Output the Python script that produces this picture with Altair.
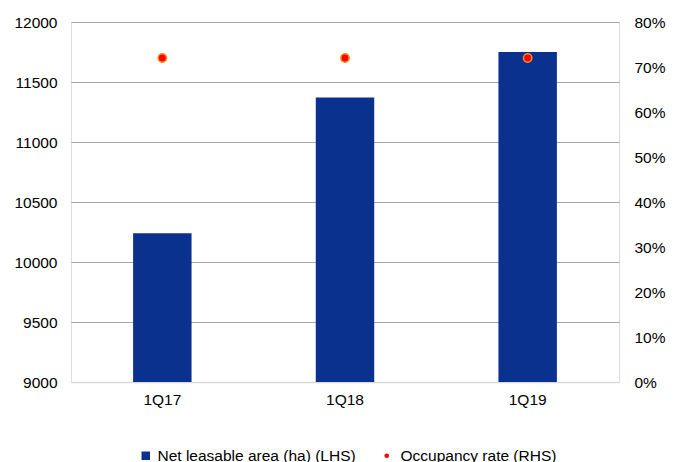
import altair as alt
import pandas as pd

quarters = ["1Q17", "1Q18", "1Q19"]
area = [10240, 11370, 11750]
occupancy = [0.72, 0.72, 0.72]
bar_name = "Net leasable area (ha) (LHS)"
pt_name = "Occupancy rate (RHS)"

df = pd.DataFrame({
    "q": quarters,
    "area": area,
    "occ": occupancy,
    "s1": [bar_name] * 3,
    "s2": [pt_name] * 3,
})

FONT = "Liberation Sans"
FS = 15.5

x = alt.X("q:N", sort=quarters, title=None,
          scale=alt.Scale(paddingInner=0.68, paddingOuter=0.34),
          axis=alt.Axis(labelAngle=0, ticks=False, labelPadding=10,
                        domainColor="#d9d9d9", domainWidth=1.5,
                        labelFont=FONT, labelFontSize=FS, labelColor="#000"))

bars = alt.Chart(df).mark_bar(color="#0b318f", clip=True).encode(
    x=x,
    y=alt.Y("area:Q", title=None,
            scale=alt.Scale(domain=[9000, 12000], nice=False, zero=False),
            axis=alt.Axis(values=[9000, 9500, 10000, 10500, 11000, 11500, 12000],
                          format="d",
                          ticks=False, domain=False, labelPadding=14,
                          gridColor={"condition": {"test": "datum.value === 9000", "value": "#d9d9d9"},
                                     "value": "#a6a6a6"},
                          gridWidth=1.2,
                          labelFont=FONT, labelFontSize=FS, labelColor="#000")),
    y2=alt.Y2(datum=9000),
    fill=alt.Fill("s1:N", title=None,
                  scale=alt.Scale(domain=[bar_name], range=["#0b318f"]),
                  legend=alt.Legend(orient="none", legendX=67, legendY=426,
                                    symbolType="square", symbolSize=72,
                                    symbolStrokeWidth=0, labelLimit=400,
                                    labelBaseline="middle", labelOffset=4,
                                    labelFont=FONT, labelFontSize=FS, labelColor="#000")),
)

points = alt.Chart(df).mark_point(filled=True, fill="#ff0000", stroke="#ff8c1a",
                                   strokeWidth=1.5, size=70, opacity=1).encode(
    x=x,
    y=alt.Y("occ:Q", title=None,
            scale=alt.Scale(domain=[0, 0.8], nice=False),
            axis=alt.Axis(orient="right", format=".0%",
                          values=[0, 0.1, 0.2, 0.3, 0.4, 0.5, 0.6, 0.7, 0.8],
                          ticks=False, domain=False, grid=False, labelPadding=15,
                          labelFont=FONT, labelFontSize=FS, labelColor="#000")),
    shape=alt.Shape("s2:N", title=None,
                    scale=alt.Scale(domain=[pt_name], range=["circle"]),
                    legend=alt.Legend(orient="none", legendX=308, legendY=426,
                                      symbolSize=22, symbolFillColor="#ff0000",
                                      symbolStrokeColor="#ff8c1a", symbolStrokeWidth=1,
                                      labelLimit=400,
                                      labelBaseline="middle", labelOffset=6,
                                      labelFont=FONT, labelFontSize=FS, labelColor="#000")),
)

chart = alt.layer(bars, points).resolve_scale(y="independent").properties(
    width=548, height=360,
    autosize=alt.AutoSizeParams(type="none"),
    padding={"left": 71, "top": 22, "right": 63, "bottom": 80},
).configure_view(stroke=None).configure(background="white")

chart.save("out.html", embed_options={"renderer": "svg", "actions": False})
